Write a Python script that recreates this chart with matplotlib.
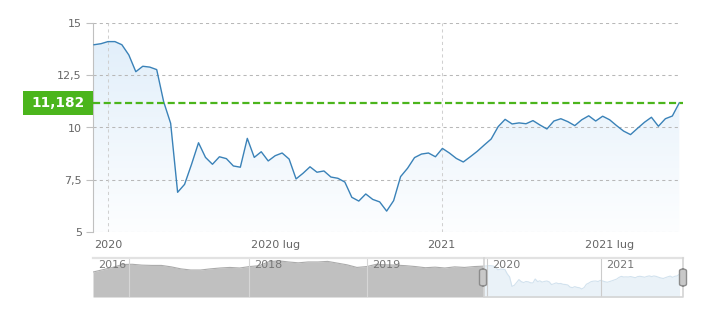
import numpy as np
import matplotlib
matplotlib.use("Agg")
import matplotlib.pyplot as plt
from matplotlib.colors import LinearSegmentedColormap
from matplotlib.patches import PathPatch, Rectangle, FancyBboxPatch

# ---------------- data ----------------
# weekly closes shown in the main chart (Dec 2019 -> Sep 2021)
prices = [13.96, 14.01, 14.11, 14.11, 13.96, 13.47, 12.67, 12.93, 12.89, 12.77,
          11.23, 10.20, 6.90, 7.28, 8.24, 9.27, 8.57, 8.24, 8.60, 8.51,
          8.16, 8.10, 9.48, 8.57, 8.84, 8.40, 8.65, 8.78, 8.49, 7.54,
          7.81, 8.12, 7.86, 7.92, 7.63, 7.57, 7.39, 6.66, 6.48, 6.82,
          6.56, 6.44, 6.00, 6.50, 7.65, 8.05, 8.56, 8.73, 8.78, 8.60,
          9.00, 8.78, 8.52, 8.35, 8.60, 8.86, 9.16, 9.45, 10.04, 10.39,
          10.17, 10.22, 10.18, 10.33, 10.12, 9.93, 10.31, 10.42, 10.28, 10.09,
          10.37, 10.56, 10.31, 10.54, 10.37, 10.09, 9.83, 9.66, 9.96, 10.25,
          10.49, 10.06, 10.42, 10.55, 11.182]
last_price = 11.182
last_label = "11,182"

# older history shown only in the navigator (roughly monthly, Sep 2016 -> Dec 2019)
history = [11.9, 12.7, 13.5, 14.5, 14.6, 14.3, 14.2, 14.2, 13.7, 13.0,
           12.6, 12.6, 13.0, 13.3, 13.5, 13.3, 13.8, 14.1, 15.5, 15.8,
           15.4, 15.1, 15.4, 15.4, 15.6, 15.0, 14.4, 13.5, 13.8, 14.6,
           14.4, 14.3, 14.1, 13.8, 13.4, 13.6, 13.3, 13.7, 13.5, 13.8]

# x tick labels (ordinal positions in weeks of the main series)
main_tick_pos = [2.01, 26.1, 49.9, 74.05]
main_tick_labels = ["2020", "2020 lug", "2021", "2021 lug"]
year_grid_pos = [2.01, 49.9]

y_ticks = [5, 7.5, 10, 12.5, 15]
y_tick_labels = ["5", "7,5", "10", "12,5", "15"]

nav_grid_pos = [-152.6, -101.0, -50.3, 1.3, 50.3]
nav_label_pos = [-168, -101.0, -50.3, 1.3, 50.3]
nav_labels = ["2016", "2018", "2019", "2020", "2021"]

# ---------------- figure ----------------
W, H = 707, 334
fig = plt.figure(figsize=(W / 100, H / 100), dpi=100)
plt.rcParams['font.family'] = ['DejaVu Sans']

def fx(px):
    return px / W

def fy(py):
    return 1 - py / H

txt_col = "#666666"

XL = (-0.144, 84.1)
ax = fig.add_axes([fx(93), fy(232), fx(680) - fx(93), fy(23) - fy(232)])
x = np.arange(len(prices))
y = np.array(prices)
ax.set_xlim(*XL)
ax.set_ylim(5, 15)

# gradient fill under the line
poly = ax.fill_between(x, y, 5, color="none", lw=0)
path = poly.get_paths()[0]
clip = PathPatch(path, transform=ax.transData, facecolor="none", edgecolor="none")
ax.add_patch(clip)
cmap = LinearSegmentedColormap.from_list("g", ["#fdfeff", "#e2effa"])
grad = np.linspace(0, 1, 256).reshape(-1, 1)
img = ax.imshow(grad, extent=[XL[0], XL[1], 5, y.max()], origin="lower",
                aspect="auto", cmap=cmap, zorder=1)
img.set_clip_path(clip)

# grid lines
for v in y_ticks:
    ax.axhline(v, color="#b8b8b8", lw=0.75, ls=(0, (3, 3)), zorder=2)
for p in year_grid_pos:
    ax.axvline(p, color="#d0d0d0", lw=0.75, ls=(0, (3, 3)), zorder=2)

ax.plot(x, y, color="#3a82b8", lw=1.0, zorder=4)

# last price line
ax.plot([0, 1.005], [last_price, last_price], transform=ax.get_yaxis_transform(),
        color="#4bb51c", lw=1.6, ls=(0, (3.2, 1.6)), zorder=5, clip_on=False)

for s in ["top", "right", "bottom"]:
    ax.spines[s].set_visible(False)
ax.spines["left"].set_color("#c0c0c0")
ax.spines["left"].set_linewidth(0.8)

ax.set_yticks(y_ticks)
ax.set_yticklabels(y_tick_labels)
ax.set_xticks(main_tick_pos)
ax.set_xticklabels(main_tick_labels)
ax.tick_params(axis="y", length=5, width=0.8, color="#c0c0c0", pad=3,
               labelsize=8, labelcolor=txt_col)
ax.tick_params(axis="x", length=0, pad=6, labelsize=8, labelcolor=txt_col)

# green label box
fig.patches.append(Rectangle((fx(23), fy(115)), fx(93) - fx(23), fy(91) - fy(115),
                             transform=fig.transFigure, facecolor="#4bb51c",
                             edgecolor="none", zorder=10))
fig.text(fx(58), fy(103), last_label, ha="center", va="center", color="white",
         fontsize=9.8, fontweight="bold", zorder=11)

# ---------------- navigator ----------------
NB, NT = 3.22, 16.78
nav = fig.add_axes([fx(93), fy(297), fx(683) - fx(93), fy(258) - fy(297)])
nav.set_xlim(-168, 85.5)
nav.set_ylim(NB, NT)
nav.axis("off")

hist_x = np.linspace(-168, 0, len(history) + 1)[:-1]
hx = np.concatenate([hist_x, [0]])
hy = np.concatenate([history, [prices[0]]])
nav.fill_between(hx, hy, NB, color="#c0c0c0", lw=0, zorder=1)
nav.plot(hx, hy, color="#ababab", lw=0.8, zorder=2)
nav.fill_between(x, y, NB, color="#eaf2f8", lw=0, zorder=1)
nav.plot(x, y, color="#d2e2ee", lw=0.8, zorder=2)

for p in nav_grid_pos:
    col = "#d6d6d6" if p < 0 else "#cccccc"
    nav.axvline(p, color=col, lw=0.8, zorder=3)
for p, lab in zip(nav_label_pos, nav_labels):
    nav.text(p + 2.2, 14.2, lab, ha="left", va="center", fontsize=8,
             color="#777777", zorder=4)

# outline
oc = "#d4d4d4"
fig.lines.append(plt.Line2D([fx(93), fx(683)], [fy(257.5), fy(257.5)],
                            transform=fig.transFigure, color="#e2e2e2", lw=1.6))
fig.lines.append(plt.Line2D([fx(484), fx(484), fx(683), fx(683)],
                            [fy(258), fy(297), fy(297), fy(258)],
                            transform=fig.transFigure, color=oc, lw=1.2))

# handles
for hpx in [483, 683]:
    fig.patches.append(FancyBboxPatch((fx(hpx - 3.5), fy(286)), fx(7), fy(269) - fy(286),
                                      boxstyle="round,pad=0,rounding_size=0.006",
                                      transform=fig.transFigure, facecolor="#c8c8c8",
                                      edgecolor="#8c8c8c", lw=1.0, zorder=12))

fig.savefig("out.png", dpi=100)
